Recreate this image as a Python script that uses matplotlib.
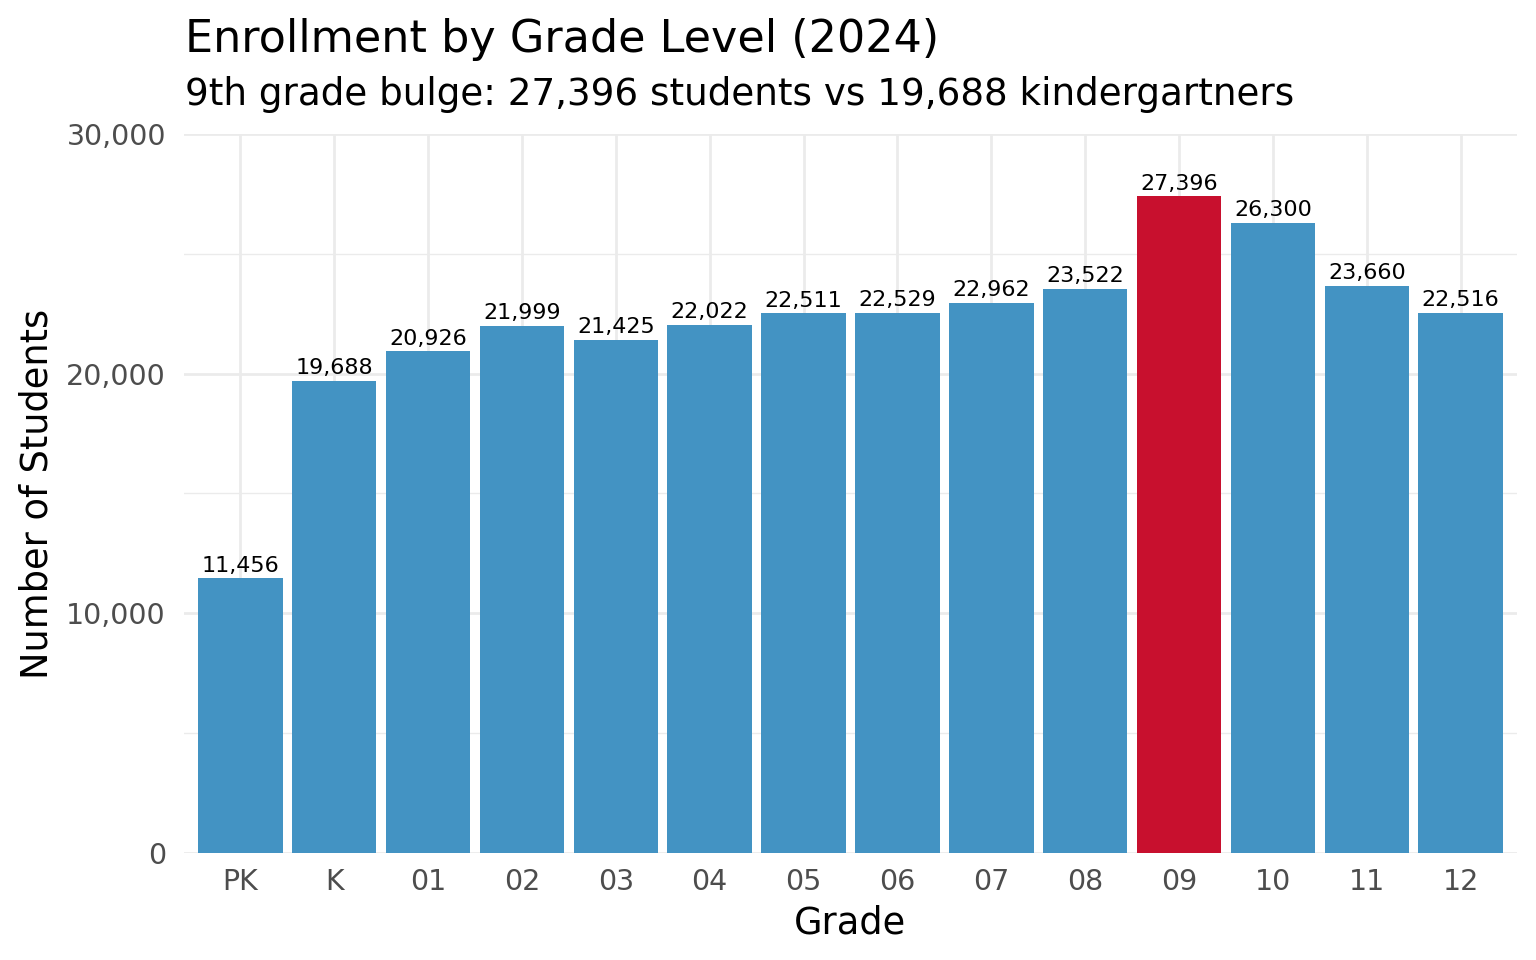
import matplotlib
matplotlib.use("Agg")
import matplotlib.pyplot as plt
from matplotlib.ticker import FuncFormatter, MultipleLocator

# enrollment data
grades = ["PK", "K", "01", "02", "03", "04", "05", "06", "07", "08", "09", "10", "11", "12"]
students = [11456, 19688, 20926, 21999, 21425, 22022, 22511, 22529, 22962, 23522,
            27396, 26300, 23660, 22516]
highlight = "09"

blue = "#4393C3"
red = "#C8102E"
grid_col = "#EBEBEB"

plt.rcParams['font.family'] = ['DejaVu Sans']

fig = plt.figure(figsize=(15.36, 9.6), dpi=100)
ax = fig.add_axes([0.1198, 0.1115, 0.8678, 0.7489])

colors = [red if g == highlight else blue for g in grades]
x = list(range(len(grades)))
bars = ax.bar(x, students, width=0.9, color=colors, zorder=2)

for xi, v in zip(x, students):
    ax.text(xi, v + 120, f"{v:,}", ha="center", va="bottom", fontsize=16, color="black", zorder=3)

ax.set_xlim(-0.6, len(grades) - 0.4)
ax.set_ylim(0, 30000)
ax.set_xticks(x)
ax.set_xticklabels(grades)
ax.yaxis.set_major_locator(MultipleLocator(10000))
ax.yaxis.set_minor_locator(MultipleLocator(5000))
ax.yaxis.set_major_formatter(FuncFormatter(lambda v, p: f"{int(v):,}"))

ax.grid(True, which="major", axis="both", color=grid_col, linewidth=2.0, zorder=0)
ax.grid(True, which="minor", axis="y", color=grid_col, linewidth=1.0, zorder=0)
for s in ax.spines.values():
    s.set_visible(False)
ax.tick_params(axis="both", which="both", length=0, labelsize=20.5, labelcolor="#4D4D4D")
ax.tick_params(axis="x", pad=11)
ax.tick_params(axis="y", pad=13)

ax.set_xlabel("Grade", fontsize=26.5, labelpad=6)
ax.set_ylabel("Number of Students", fontsize=26.5, labelpad=8)

fig.text(0.1205, 0.946, "Enrollment by Grade Level (2024)", fontsize=32, ha="left", va="baseline")
fig.text(0.1205, 0.891, "9th grade bulge: 27,396 students vs 19,688 kindergartners", fontsize=26.8,
         ha="left", va="baseline")

fig.savefig("out.png", dpi=100)
